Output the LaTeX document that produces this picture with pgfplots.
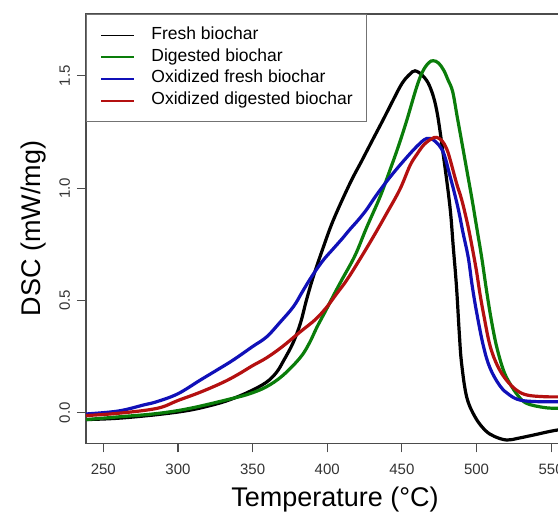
\documentclass[border=0pt]{standalone}
\usepackage{fontspec}
\setmainfont{Liberation Sans}
\usepackage{pgfplots}
\pgfplotsset{compat=1.18}
\definecolor{cfresh}{HTML}{000000}
\definecolor{cdig}{HTML}{0A7D0A}
\definecolor{coxf}{HTML}{1010B8}
\definecolor{coxd}{HTML}{B41010}

\begin{document}
\begin{tikzpicture}
\begin{axis}[
  at={(0,0)}, anchor=south west,
  scale only axis, width=249bp, height=214.7bp,
  xmin=238.4, xmax=572, ymin=-0.136, ymax=1.775,
  xtick={250,300,350,400,450,500,550},
  ytick={0,0.5,1,1.5},
  xtick pos=bottom, ytick pos=left,
  tick align=outside, major tick length=4.5bp,
  axis line style={draw=black!70, line width=0.6bp},
  every tick/.style={draw=black!70, line width=0.6bp},
  tick label style={font=\fontsize{7.5bp}{9bp}\selectfont, text=black!80},
  /pgf/number format/assume math mode=true,
  yticklabel style={rotate=90, anchor=south, /pgf/number format/fixed, /pgf/number format/fixed zerofill, /pgf/number format/precision=1},
  xticklabel style={yshift=-2.5bp, /pgf/number format/1000 sep={}},
  xlabel={Temperature (°C)}, ylabel={DSC (mW/mg)},
  label style={font=\fontsize{13.5bp}{16bp}\selectfont},
  xlabel style={yshift=1bp},
  legend cell align=left,
  legend style={at={(0,1)}, anchor=north west, draw=black!55, line width=0.6bp,
    font=\fontsize{8.75bp}{10.5bp}\selectfont, inner xsep=7bp, inner ysep=5bp,
    row sep=0pt, nodes={inner sep=0pt, text height=7.4bp, text depth=3.5bp}},
  legend image code/.code={\draw[#1, line width=0.8bp] (0bp,0bp) -- (16.5bp,0bp); \path[draw=none] (0bp,0bp) -- (25bp,0bp);},
  every axis plot/.append style={line width=1.6bp, smooth, tension=0.6},
]
% Fresh biochar
\addplot[cfresh] coordinates {
(238.5,-0.030) (260,-0.024) (286,-0.008) (308,0.012) (326,0.040) (337,0.064)
(348,0.095) (359,0.135) (366,0.180) (371,0.235) (377,0.31) (382,0.398)
(386,0.50) (390.6,0.605) (397,0.73) (404.1,0.858) (415.2,1.021) (423,1.12)
(430.8,1.22) (437.5,1.305) (444,1.39) (450,1.465) (455,1.505) (458.8,1.522)
(464,1.50) (468.8,1.451)
(473.3,1.347) (477.7,1.15) (482.2,0.917) (484.4,0.74) (486.6,0.56) (488.5,0.35)
(490,0.22) (493.4,0.071) (499,-0.018) (505.7,-0.077) (512,-0.105) (520.2,-0.121)
(528,-0.113) (538,-0.099) (553.7,-0.077) (570,-0.065)
};
% Digested biochar
\addplot[cdig] coordinates {
(238.5,-0.030) (260,-0.018) (286,-0.003) (308,0.020) (337,0.065) (348,0.085)
(359,0.115) (370,0.165) (381.8,0.245) (388,0.31) (393,0.38) (399,0.455)
(404,0.52) (409.7,0.591) (418.6,0.70) (426.4,0.825) (435.3,0.96) (442,1.08)
(447.6,1.185) (453.2,1.30) (459.9,1.45) (464,1.52) (468,1.558) (471,1.567)
(474.5,1.557) (478,1.525) (481,1.48) (484,1.43) (487,1.32) (490,1.21)
(493.5,1.08) (497,0.95) (500,0.83) (503.5,0.69) (506.8,0.54) (510,0.41)
(513.5,0.294) (518,0.19) (522.4,0.13)
(528,0.075) (533.6,0.042) (545,0.024) (555,0.020) (570,0.020)
};
% Oxidized fresh biochar
\addplot[coxf] coordinates {
(238.5,-0.005) (260,0.008) (277,0.035) (286,0.050) (300,0.085) (315,0.146)
(326,0.19) (337,0.235) (350,0.295) (359.4,0.338) (368,0.40) (377.3,0.472)
(383,0.535) (388,0.59) (393,0.64) (398,0.685) (404,0.73) (410,0.775)
(415,0.815) (421,0.86) (426.4,0.905) (432,0.96) (437.5,1.01) (444,1.065)
(451,1.12) (459.9,1.185) (466.6,1.221)
(472,1.21) (477.7,1.16) (482,1.06) (484.4,1.00) (488,0.90) (491,0.80)
(494.5,0.69) (497,0.57) (500,0.45) (504.5,0.30) (509,0.20) (515.7,0.12)
(522,0.08) (529,0.057) (540,0.05) (555,0.049) (570,0.05)
};
% Oxidized digested biochar
\addplot[coxd] coordinates {
(238.5,-0.012) (260,-0.002) (286,0.020) (300,0.055) (315,0.092) (330,0.135)
(340,0.17) (350,0.21) (359.4,0.245) (370,0.295) (381.8,0.36) (392,0.415)
(399.6,0.47) (406.3,0.53) (413,0.59) (422,0.685) (431,0.785) (440,0.89)
(448.7,0.995) (455.4,1.10) (460,1.15) (465,1.195) (470,1.22) (473.3,1.226)
(477,1.21) (480,1.175) (482.2,1.13) (486.7,1.02) (490,0.95) (494,0.84)
(497,0.74) (500,0.63) (502.3,0.53) (505,0.43) (509,0.30) (514,0.21)
(520,0.146) (527,0.10) (534,0.079) (545,0.072) (555,0.071) (570,0.072)
};
\legend{Fresh biochar, Digested biochar, Oxidized fresh biochar, Oxidized digested biochar}
\end{axis}
\pgfresetboundingbox
\useasboundingbox (-43bp,-35.8bp) rectangle (236bp,221.7bp);
\end{tikzpicture}
\end{document}
